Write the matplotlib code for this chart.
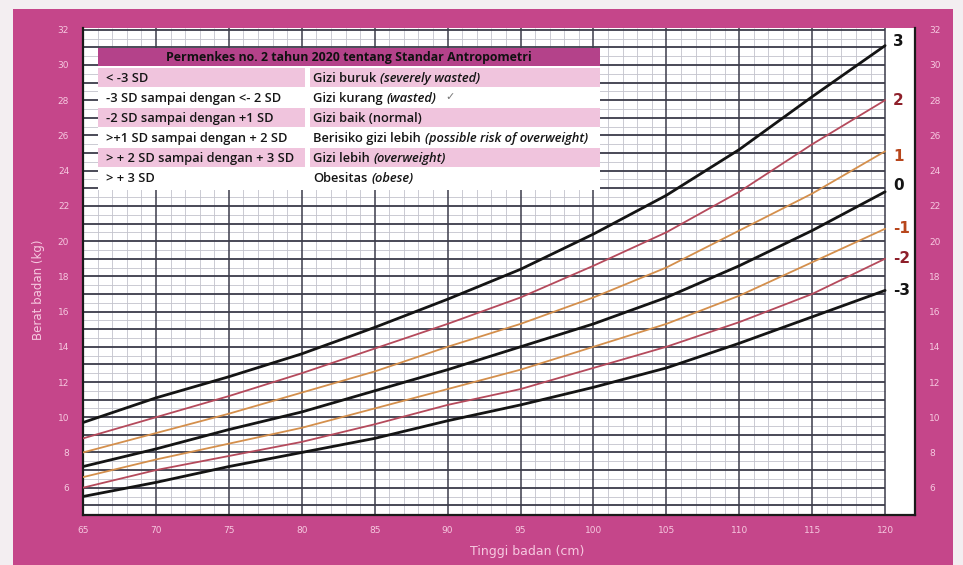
import matplotlib
matplotlib.use("Agg")
import matplotlib.pyplot as plt
from matplotlib.patches import Rectangle
from matplotlib.text import Annotation
import numpy as np

# ---------------- data ----------------
heights = [65, 70, 75, 80, 85, 90, 95, 100, 105, 110, 115, 120]
sd_m3 = [5.5, 6.3, 7.2, 8.0, 8.8, 9.8, 10.7, 11.7, 12.8, 14.2, 15.7, 17.2]
sd_m2 = [6.0, 7.0, 7.8, 8.6, 9.6, 10.7, 11.6, 12.8, 14.0, 15.4, 17.0, 19.0]
sd_m1 = [6.6, 7.6, 8.5, 9.4, 10.5, 11.6, 12.7, 14.0, 15.3, 16.9, 18.8, 20.7]
sd_0 = [7.2, 8.2, 9.3, 10.3, 11.5, 12.7, 14.0, 15.3, 16.8, 18.6, 20.6, 22.8]
sd_p1 = [8.0, 9.1, 10.2, 11.4, 12.6, 14.0, 15.3, 16.8, 18.5, 20.6, 22.7, 25.1]
sd_p2 = [8.8, 10.0, 11.2, 12.5, 13.9, 15.3, 16.8, 18.6, 20.5, 22.8, 25.5, 28.0]
sd_p3 = [9.7, 11.1, 12.3, 13.6, 15.1, 16.7, 18.4, 20.4, 22.6, 25.2, 28.2, 31.1]

curve_labels = ["3", "2", "1", "0", "-1", "-2", "-3"]
x_ticks = [65, 70, 75, 80, 85, 90, 95, 100, 105, 110, 115, 120]
y_ticks = [6, 8, 10, 12, 14, 16, 18, 20, 22, 24, 26, 28, 30, 32]

table_title = "Permenkes no. 2 tahun 2020 tentang Standar Antropometri"
table_left = ["< -3 SD", "-3 SD sampai dengan <- 2 SD", "-2 SD sampai dengan +1 SD",
              ">+1 SD sampai dengan + 2 SD", "> + 2 SD sampai dengan + 3 SD", "> + 3 SD"]
table_right_plain = ["Gizi buruk", "Gizi kurang", "Gizi baik (normal)",
                     "Berisiko gizi lebih", "Gizi lebih", "Obesitas"]
table_right_italic = ["(severely wasted)", "(wasted)", "",
                      "(possible risk of overweight)", "(overweight)", "(obese)"]

# ---------------- style ----------------
PINK = "#c5468a"
PINK_LIGHT = "#f0c4dd"
HEADER = "#b4428a"
TICKC = "#f6c9e0"
BLACK = "#141414"
RED = "#b54a5c"
ORANGE = "#d48f4c"
LBL_RED = "#8e1f2a"
LBL_OR = "#b8461c"
TXT = "#151515"
FS = 9.3

W, H = 963, 565
fig = plt.figure(figsize=(W / 100, H / 100), dpi=100, facecolor=PINK)

def fx(px):
    return px / W

def fy(py):
    return 1 - py / H

def frect(x0, y0, x1, y1, color, z):
    fig.patches.append(Rectangle((fx(x0), fy(y1)), fx(x1) - fx(x0), fy(y0) - fy(y1),
                                 transform=fig.transFigure, facecolor=color,
                                 edgecolor="none", zorder=z))

# photo-like light margins
frect(0, 0, 13, H, "#f3eef1", 0)
frect(953, 0, W, H, "#f3eef1", 0)
frect(0, 0, W, 9, "#f3eef1", 0)

ax = fig.add_axes([fx(83), fy(515), fx(915) - fx(83), fy(28) - fy(515)])
ax.set_facecolor("white")
ax.set_xlim(65, 122.05)
ax.set_ylim(4.45, 32.1)

# grid (only up to 120 cm)
for v in np.arange(65, 121, 1):
    if v % 5 != 0:
        ax.vlines(v, 4.45, 32.1, color="#c3c3cc", lw=0.6, zorder=1)
for h in np.arange(5.5, 32.1, 1.0):
    ax.hlines(h, 65, 120, color="#c3c3cc", lw=0.6, zorder=1)
for h in np.arange(5, 33, 1):
    ax.hlines(h, 65, 120, color="#3c3c4a", lw=1.3, zorder=2)
for v in np.arange(65, 121, 5):
    ax.vlines(v, 4.45, 32.1, color="#3c3c4a", lw=1.1, zorder=2)

# curves
series = [sd_p3, sd_p2, sd_p1, sd_0, sd_m1, sd_m2, sd_m3]
colors = [BLACK, RED, ORANGE, BLACK, ORANGE, RED, BLACK]
widths = [2.0, 1.3, 1.3, 2.0, 1.3, 1.3, 2.0]
lcolors = [BLACK, LBL_RED, LBL_OR, BLACK, LBL_OR, LBL_RED, BLACK]
label_y_shift = [0.25, 0.0, -0.3, 0.35, 0.0, 0.0, 0.0]
for s, c, w, lab, lc, dy in zip(series, colors, widths, curve_labels, lcolors, label_y_shift):
    ax.plot(heights, s, color=c, lw=w, zorder=5, solid_capstyle="round",
            solid_joinstyle="round")
    ax.text(120.55, s[-1] + dy, lab, color=lc, fontsize=11, fontweight="bold",
            ha="left", va="center", zorder=6)

# ticks
ax.set_xticks(x_ticks)
ax.set_yticks(y_ticks)
ax.tick_params(axis="both", length=0, labelsize=6.5, labelcolor=TICKC)
ax.tick_params(axis="x", pad=8)
ax.tick_params(axis="y", pad=10, labelright=True, right=False)
ax.grid(False)
for side in ["left", "bottom", "right"]:
    ax.spines[side].set_color("#1a1a1a")
    ax.spines[side].set_linewidth(1.6)
ax.spines["top"].set_visible(False)

fig.text(fx(38), fy(290), "Berat badan (kg)", rotation=90, color=TICKC,
         fontsize=8.5, ha="center", va="center")
fig.text(fx(527), fy(551), "Tinggi badan (cm)", color=TICKC,
         fontsize=9, ha="center", va="center")

# ---------------- legend table ----------------
tx0, tx1, tmid, tr0 = 98, 600, 305, 310
frect(tx0, 66, tx1, 190, "white", 10)
frect(tx0, 48, tx1, 66, HEADER, 11)
fig.text(fx(349), fy(57.5), table_title, fontsize=8.9, fontweight="bold",
         color="#111111", ha="center", va="center", zorder=12, family="Open Sans")

row_tops = [68, 88, 108, 128, 148, 168]
row_h = 19
for i, top in enumerate(row_tops):
    if i % 2 == 0:
        frect(tx0, top, tmid, top + row_h, PINK_LIGHT, 11)
        frect(tr0, top, tx1, top + row_h, PINK_LIGHT, 11)
    yc = fy(top + row_h / 2 + 1)
    fig.text(fx(106), yc, table_left[i], fontsize=FS, fontweight="semibold",
             color=TXT, ha="left", va="center", zorder=12, family="Open Sans")
    t = fig.text(fx(313), yc, table_right_plain[i], fontsize=FS, fontweight="semibold",
                 color=TXT, ha="left", va="center", zorder=12, family="Open Sans")
    if table_right_italic[i]:
        a = Annotation(table_right_italic[i], xy=(1, 0.5), xycoords=t,
                       xytext=(3, 0), textcoords="offset points",
                       fontsize=FS, fontweight="semibold", style="italic",
                       color=TXT, ha="left", va="center", family="Open Sans")
        a.set_zorder(12)
        fig.add_artist(a)
        if i == 1:
            c = Annotation("\u2713", xy=(1, 0.5), xycoords=a, xytext=(6, 1),
                           textcoords="offset points", fontsize=8, color="#777777",
                           ha="left", va="center", family="DejaVu Sans")
            c.set_zorder(12)
            fig.add_artist(c)

fig.savefig("out.png", dpi=100, facecolor=fig.get_facecolor())
